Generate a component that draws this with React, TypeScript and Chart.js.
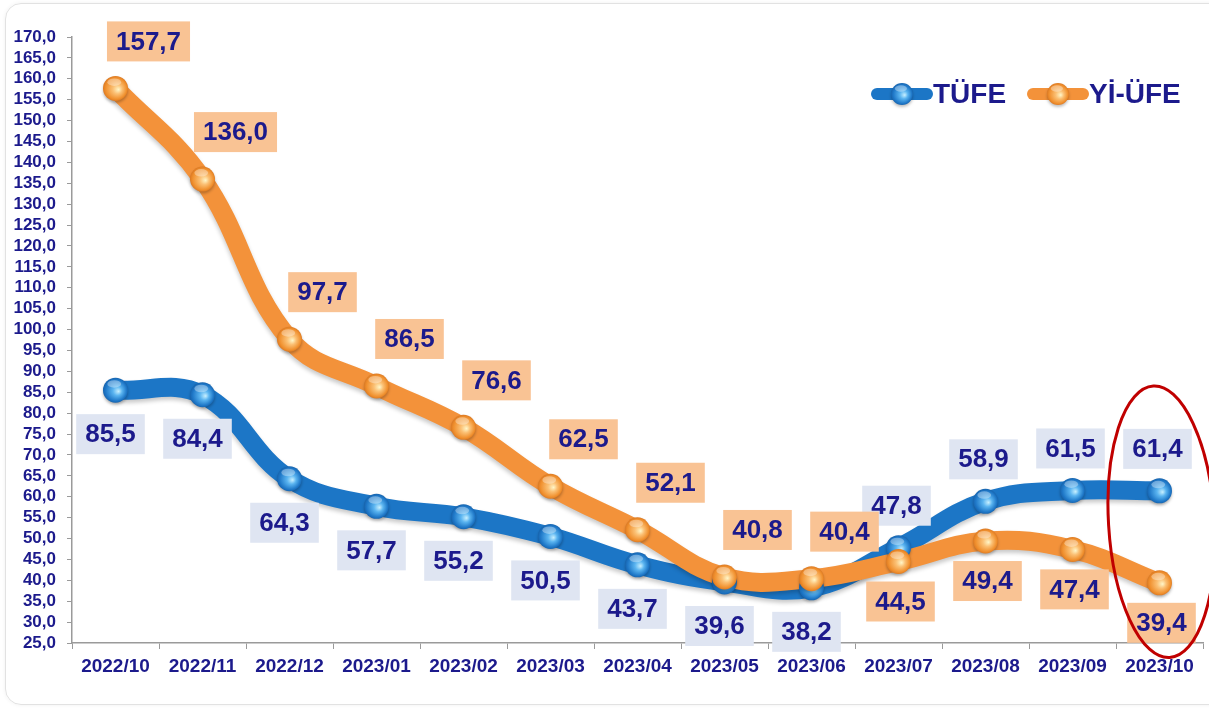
import React, { useEffect, useRef } from "react";
import { Chart, registerables } from "chart.js";

Chart.register(...registerables);

const categories = [
  "2022/10", "2022/11", "2022/12", "2023/01", "2023/02", "2023/03", "2023/04",
  "2023/05", "2023/06", "2023/07", "2023/08", "2023/09", "2023/10",
];
const tufe = [85.5, 84.4, 64.3, 57.7, 55.2, 50.5, 43.7, 39.6, 38.2, 47.8, 58.9, 61.5, 61.4];
const yiufe = [157.7, 136.0, 97.7, 86.5, 76.6, 62.5, 52.1, 40.8, 40.4, 44.5, 49.4, 47.4, 39.4];
const tufeLabelSide = ["below", "below", "below", "below", "below", "below", "below", "below", "below", "above", "above", "above", "above"];
const yiufeLabelSide = ["above", "above", "above", "above", "above", "above", "above", "above", "above", "below", "below", "below", "below"];
const seriesNames = ["TÜFE", "Yİ-ÜFE"];
const yMin = 25;
const yMax = 170;
const yStep = 5;

const NAVY = "#1c1a8c";
const BLUE = "#1c76c6";
const ORANGE = "#f3923a";
const FONT = "'Liberation Sans', Arial, sans-serif";

const fmt = (v: number) => v.toFixed(1).replace(".", ",");

function drawSphere(ctx: CanvasRenderingContext2D, x: number, y: number, r: number, kind: number) {
  const g = ctx.createRadialGradient(x + r * 0.25, y + r * 0.1, 0, x, y, r * 1.05);
  if (kind === 0) {
    g.addColorStop(0, "#c8f0ff");
    g.addColorStop(0.35, "#5ab4f0");
    g.addColorStop(0.8, "#1f78c8");
    g.addColorStop(1, "#155fa8");
  } else {
    g.addColorStop(0, "#fff6c8");
    g.addColorStop(0.35, "#fbc074");
    g.addColorStop(0.8, "#f0902e");
    g.addColorStop(1, "#d77420");
  }
  ctx.save();
  ctx.shadowColor = "rgba(0,0,0,0.25)";
  ctx.shadowBlur = 3;
  ctx.shadowOffsetY = 2;
  ctx.beginPath();
  ctx.arc(x, y, r, 0, Math.PI * 2);
  ctx.fillStyle = g;
  ctx.fill();
  ctx.restore();
  ctx.save();
  ctx.beginPath();
  ctx.ellipse(x - r * 0.1, y - r * 0.5, r * 0.55, r * 0.3, 0, 0, Math.PI * 2);
  ctx.fillStyle = "rgba(255,255,255,0.35)";
  ctx.fill();
  ctx.restore();
}

const decorPlugin = {
  id: "decor",
  beforeDatasetsDraw(chart: any) {
    const ctx = chart.ctx;
    ctx.save();
    ctx.shadowColor = "rgba(0,0,0,0.22)";
    ctx.shadowBlur = 4;
    ctx.shadowOffsetY = 3;
  },
  afterDatasetsDraw(chart: any) {
    const ctx: CanvasRenderingContext2D = chart.ctx;
    ctx.restore();
    const xs = chart.scales.x;
    const ys = chart.scales.y;

    [0, 1].forEach((di) => {
      const meta = chart.getDatasetMeta(di);
      meta.data.forEach((pt: any) => drawSphere(ctx, pt.x, pt.y, 12.5, di));
    });

    const sides = [tufeLabelSide, yiufeLabelSide];
    const boxColors = ["#dfe5f2", "#f9c394"];
    ctx.save();
    ctx.font = `bold 26px ${FONT}`;
    ctx.textAlign = "center";
    ctx.textBaseline = "middle";
    [0, 1].forEach((di) => {
      const meta = chart.getDatasetMeta(di);
      const vals = chart.data.datasets[di].data as number[];
      meta.data.forEach((pt: any, i: number) => {
        const side = sides[di][i];
        let dx = 0;
        let dy = 0;
        if (di === 1) {
          dx = side === "above" ? 33 : 2;
          dy = side === "above" ? -47 : 40;
        } else {
          dx = side === "above" ? -2 : -5;
          dy = side === "above" ? -42 : 44;
        }
        const text = fmt(vals[i]);
        const w = ctx.measureText(text).width + 18;
        const h = 40;
        const cx = pt.x + dx;
        const cy = pt.y + dy;
        ctx.fillStyle = boxColors[di];
        ctx.fillRect(cx - w / 2, cy - h / 2, w, h);
        ctx.fillStyle = NAVY;
        ctx.fillText(text, cx, cy + 1);
      });
    });
    ctx.restore();

    const ex = xs.getPixelForValue(categories.length - 1);
    const ey = ys.getPixelForValue(54);
    ctx.save();
    ctx.beginPath();
    ctx.ellipse(ex + 2, ey, 53, 136, -0.06, 0, Math.PI * 2);
    ctx.strokeStyle = "#c00000";
    ctx.lineWidth = 3;
    ctx.stroke();
    ctx.restore();

    const legendItems = [
      { x: 872, color: BLUE, kind: 0 },
      { x: 1028, color: ORANGE, kind: 1 },
    ];
    const ly = 94;
    ctx.save();
    legendItems.forEach((it, k) => {
      ctx.beginPath();
      ctx.moveTo(it.x + 5, ly);
      ctx.lineTo(it.x + 55, ly);
      ctx.strokeStyle = it.color;
      ctx.lineWidth = 12;
      ctx.lineCap = "round";
      ctx.stroke();
      drawSphere(ctx, it.x + 30, ly, 11, it.kind);
      ctx.font = `bold 28px ${FONT}`;
      ctx.fillStyle = NAVY;
      ctx.textAlign = "left";
      ctx.textBaseline = "middle";
      ctx.fillText(seriesNames[k], it.x + 61, ly + 1);
    });
    ctx.restore();
  },
};

export default function App() {
  const ref = useRef<HTMLCanvasElement | null>(null);
  useEffect(() => {
    if (!ref.current) return;
    const chart = new Chart(ref.current, {
      type: "line",
      data: {
        labels: categories,
        datasets: [
          {
            label: seriesNames[0],
            data: tufe,
            borderColor: BLUE,
            borderWidth: 19,
            tension: 0.4,
            pointRadius: 0,
            borderCapStyle: "round",
            order: 2,
          },
          {
            label: seriesNames[1],
            data: yiufe,
            borderColor: ORANGE,
            borderWidth: 19,
            tension: 0.4,
            pointRadius: 0,
            borderCapStyle: "round",
            order: 1,
          },
        ],
      },
      options: {
        responsive: false,
        animation: false,
        layout: { padding: { top: 37, right: 6, left: 0, bottom: 0 } },
        plugins: {
          legend: { display: false },
          tooltip: { enabled: false },
        },
        scales: {
          x: {
            offset: true,
            grid: { drawOnChartArea: false, drawTicks: true, tickLength: 6, color: "#9a9a9a", offset: true },
            border: { display: true, color: "#9a9a9a", width: 1.5 },
            ticks: {
              color: NAVY,
              font: { family: FONT, size: 19, weight: "bold" },
              padding: 6,
              maxRotation: 0,
              autoSkip: false,
            },
            afterFit: (s: any) => {
              s.height = 66;
            },
          },
          y: {
            min: yMin,
            max: yMax,
            grid: { drawOnChartArea: false, drawTicks: true, tickLength: 5, color: "#9a9a9a" },
            border: { display: true, color: "#9a9a9a", width: 1.5 },
            ticks: {
              stepSize: yStep,
              autoSkip: false,
              color: NAVY,
              padding: 11,
              font: { family: FONT, size: 17, weight: "bold" },
              callback: (v: any) => fmt(Number(v)),
            },
            afterFit: (s: any) => {
              s.width = 72;
            },
          },
        },
      },
      plugins: [decorPlugin],
    });
    return () => chart.destroy();
  }, []);

  return (
    <div style={{ position: "fixed", left: 0, top: 0, width: 1209, height: 709, background: "#fff", overflow: "hidden" }}>
      <div
        style={{
          position: "absolute",
          left: 5,
          top: 3,
          width: 1230,
          height: 700,
          border: "1px solid #e2e2e2",
          borderRadius: 16,
          boxShadow: "0 0 4px rgba(0,0,0,0.06)",
        }}
      />
      <canvas ref={ref} width={1209} height={709} style={{ position: "absolute", left: 0, top: 0, display: "block" }} />
    </div>
  );
}
